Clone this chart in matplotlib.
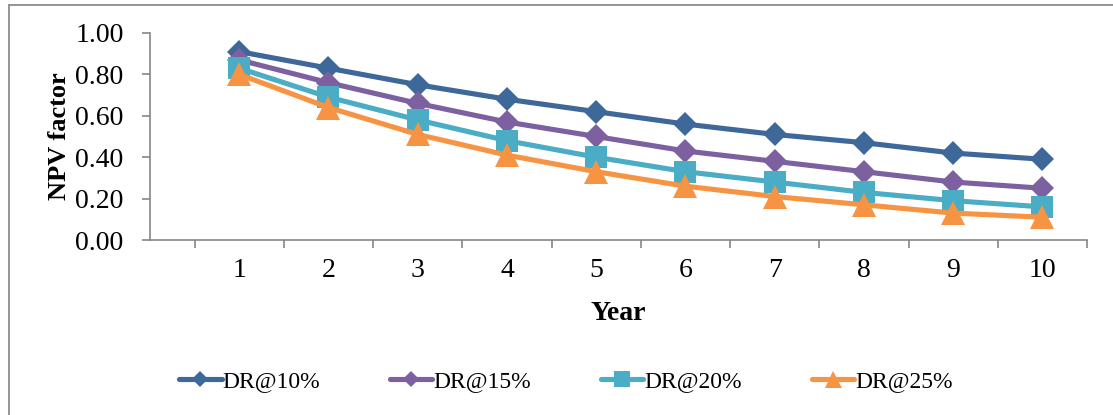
import matplotlib.pyplot as plt
from matplotlib.lines import Line2D

plt.rcParams['font.family'] = ['Liberation Serif', 'DejaVu Serif']

years = [1, 2, 3, 4, 5, 6, 7, 8, 9, 10]
dr10 = [0.91, 0.83, 0.75, 0.68, 0.62, 0.56, 0.51, 0.47, 0.42, 0.39]
dr15 = [0.87, 0.76, 0.66, 0.57, 0.50, 0.43, 0.38, 0.33, 0.28, 0.25]
dr20 = [0.83, 0.69, 0.58, 0.48, 0.40, 0.33, 0.28, 0.23, 0.19, 0.16]
dr25 = [0.80, 0.64, 0.51, 0.41, 0.33, 0.26, 0.21, 0.17, 0.13, 0.11]
labels = ['DR@10%', 'DR@15%', 'DR@20%', 'DR@25%']
y_ticks = [0.0, 0.2, 0.4, 0.6, 0.8, 1.0]

fig = plt.figure(figsize=(11.13, 4.15), dpi=100)
ax = fig.add_axes([150 / 1113, 1 - 240 / 415, 937 / 1113, 207 / 415])

series = [
    (dr10, '#3D6899', 'D', 12),
    (dr15, '#7D60A0', 'D', 12),
    (dr20, '#4AACC5', 's', 15.5),
    (dr25, '#F79444', '^', 17),
]
for (vals, col, mk, ms), lab in zip(series, labels):
    ax.plot(years, vals, color=col, lw=3.7, marker=mk, markersize=ms,
            markeredgewidth=0, label=lab, solid_capstyle='round')

ax.set_xlim(0, 10.5)
ax.set_ylim(0, 1.0)
ax.set_yticks(y_ticks)
ax.set_yticklabels(['%.2f' % v for v in y_ticks], fontsize=20)
ax.set_xticks(years)
ax.set_xticklabels([str(y) for y in years], fontsize=20)
ax.tick_params(axis='x', which='major', length=0, pad=13)
ax.set_xticks([y + 0.5 for y in [0] + years], minor=True)
ax.tick_params(axis='x', which='minor', length=6, color='#868686', width=1.2)
ax.tick_params(axis='y', length=6, color='#868686', width=1.2, pad=13)

for s in ['top', 'right']:
    ax.spines[s].set_visible(False)
for s in ['left', 'bottom']:
    ax.spines[s].set_color('#868686')
    ax.spines[s].set_linewidth(1.2)

ax.set_ylabel('NPV factor', fontsize=19, fontweight='bold', labelpad=3)
ax.set_xlabel('Year', fontsize=20, fontweight='bold', labelpad=13)

ax.legend(loc='center', bbox_to_anchor=(566 / 1113, 1 - 381 / 415),
          bbox_transform=fig.transFigure, ncol=4, frameon=False,
          fontsize=17, handlelength=1.8, handletextpad=0.05,
          columnspacing=2.95, markerscale=0.72)

# chart frame (left and top edges)
fig.add_artist(Line2D([9 / 1113, 9 / 1113], [0, 1 - 5 / 415],
                      transform=fig.transFigure, color='#8c8c8c', lw=1.3))
fig.add_artist(Line2D([9 / 1113, 1], [1 - 5 / 415, 1 - 5 / 415],
                      transform=fig.transFigure, color='#8c8c8c', lw=1.3))

fig.savefig('out.png', dpi=100)
